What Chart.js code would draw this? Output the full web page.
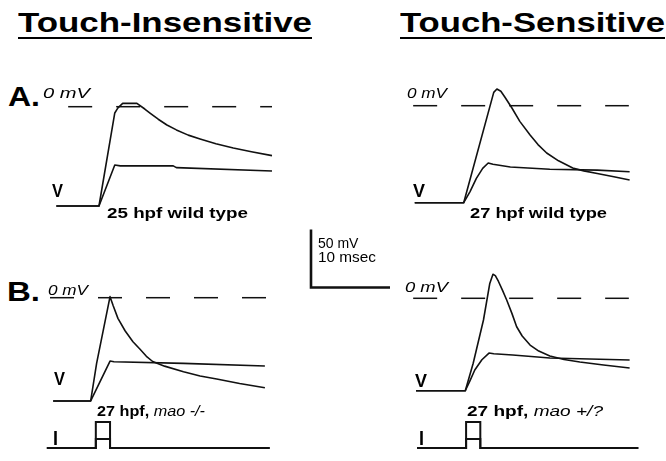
<!DOCTYPE html>
<html>
<head>
<meta charset="utf-8">
<script src="https://cdn.jsdelivr.net/npm/chart.js@4.4.0/dist/chart.umd.min.js"></script>
<style>
  body { margin: 0; background: #fff; }
  #fig { position: relative; width: 666px; height: 461px; overflow: hidden;
         font-family: "Liberation Sans", Arial, Helvetica, sans-serif; color: #000; }
  #fig canvas { position: absolute; }
  .lbl { position: absolute; white-space: nowrap; line-height: 1; transform-origin: 0 0; }
</style>
</head>
<body>
<div id="fig"></div>
<script>
// ---- data (time in ms, membrane potential in mV, current in arbitrary units) ----

// A. touch-insensitive, 25 hpf wild type
const tA1big = [0.8, 6.2, 8.2, 8.6, 9.2, 11.0, 12.0, 12.7, 13.7, 14.8, 16.0, 17.5, 19.0, 21.0, 23.2, 25.5, 28.1];
const vA1big = [-85.6, -85.6, -5.4, -1, 2.9, 2.9, -2, -5.7, -10.8, -15.8, -20, -24.5, -27.8, -32, -35.6, -38.8, -42.2];
const tA1small = [0.8, 6.2, 8.2, 8.9, 15.6, 16.0, 28.1];
const vA1small = [-85.6, -85.6, -50.2, -51, -51, -52.5, -55.4];

// A. touch-sensitive, 27 hpf wild type
const tA2big = [0.6, 6.8, 10.6, 11.0, 11.5, 12.0, 12.9, 13.9, 15.2, 16.2, 17.3, 18.8, 20.6, 22.0, 23.7, 25.8, 27.8];
const vA2big = [-83.6, -83.6, 11.5, 14.4, 12.5, 7.5, -2, -13.5, -25.3, -33.5, -40.8, -47.5, -53.7, -56.2, -58.5, -61.2, -64.1];
const tA2small = [0.6, 6.8, 7.6, 8.4, 9.2, 9.9, 10.5, 12.7, 17.7, 23.7, 27.8];
const vA2small = [-83.6, -83.6, -74, -62.6, -54, -49.4, -50.5, -52.8, -54.8, -55.5, -56.9];

// B. touch-insensitive, 27 hpf mao -/-
const tB1big = [0.4, 5.15, 5.9, 7.6, 8.0, 8.6, 9.5, 10.5, 11.4, 12.2, 13.0, 14.5, 16.9, 19.0, 21.1, 24.0, 27.2];
const vB1big = [-89, -89, -56.6, 0.9, -7, -17.8, -28.5, -38, -44.5, -50.5, -55, -59, -63.8, -67.5, -70.1, -74, -77.6];
const tB1small = [0.4, 5.15, 7.6, 8.1, 16.9, 27.2];
const vB1small = [-89, -89, -54.6, -55.2, -56.6, -58.9];

// B. touch-sensitive, 27 hpf mao +/?
const tB2big = [0.76, 7.0, 8.0, 9.3, 10.1, 10.5, 10.8, 11.2, 11.7, 12.24, 12.9, 13.5, 14.2, 15.2, 16.3, 17.7, 19.5, 21.5, 24.5, 27.8];
const vB2big = [-79.7, -79.7, -56, -18.7, 12.8, 20.7, 19.5, 14.5, 7, -1.5, -13, -24.5, -32.5, -40.3, -45.5, -49.7, -52.8, -54.9, -57.5, -60.1];
const tB2small = [0.76, 7.0, 7.6, 8.2, 9.1, 10.0, 10.6, 13.0, 17.7, 27.8];
const vB2small = [-79.7, -79.7, -71, -61.8, -53, -47.2, -47.8, -48.9, -51.5, -53.2];

// 0 mV reference spans (ms)
const zeroA1 = [2.3, 28.1];
const zeroA2 = [0.4, 27.7];
const zeroB1 = [0, 27.5];
const zeroB2 = [0.4, 27.7];

// current injection steps
const tStimB1 = [-0.4, 5.8, 5.8, 7.6, 7.6, 27.8];
const tStimB2 = [0.9, 7.1, 7.1, 8.9, 8.9, 28.9];
const iStimLarge = [0, 0, 2.6, 2.6, 0, 0];
const iStimSmall = [0, 0, 0.9, 0.9, 0, 0];

// scale bar: 50 mV / 10 msec
const tScale = [0, 0, 10];
const vScale = [50, 0, 0];

// ---- layout ----
const PX_PER_MS = 7.9;
const PX_PER_MV = 1.16;
const PX_PER_UNIT = 10;
const fig = document.getElementById('fig');

function pts(ts, vs) {
  return ts.map((t, i) => ({ x: t, y: vs[i] }));
}

function trace(ts, vs, extra) {
  return Object.assign({
    data: pts(ts, vs),
    showLine: true,
    borderColor: '#111',
    borderWidth: 1.6,
    borderJoinStyle: 'round',
    pointRadius: 0,
    fill: false,
    clip: false,
    tension: 0
  }, extra || {});
}

function zeroLine(span) {
  return trace(span, span.map(() => 0), { borderWidth: 1.5, borderDash: [24, 24] });
}

// box = canvas position; origin = pixel where t=0 / y=0 falls; yScale = px per y unit
function panel(box, origin, yScale, datasets) {
  const c = document.createElement('canvas');
  c.width = box.w; c.height = box.h;
  c.style.left = box.x + 'px'; c.style.top = box.y + 'px';
  fig.appendChild(c);
  new Chart(c, {
    type: 'scatter',
    data: { datasets: datasets },
    options: {
      responsive: false,
      animation: false,
      devicePixelRatio: 1,
      events: [],
      layout: { padding: 0 },
      plugins: { legend: { display: false }, tooltip: { enabled: false } },
      scales: {
        x: { type: 'linear', display: false,
             min: (box.x - origin.x) / PX_PER_MS,
             max: (box.x + box.w - origin.x) / PX_PER_MS },
        y: { type: 'linear', display: false,
             min: (origin.y - box.y - box.h) / yScale,
             max: (origin.y - box.y) / yScale }
      }
    }
  });
}

panel({ x: 40, y: 80, w: 245, h: 140 }, { x: 50, y: 106.7 }, PX_PER_MV, [
  zeroLine(zeroA1), trace(tA1small, vA1small), trace(tA1big, vA1big)
]);
panel({ x: 400, y: 80, w: 245, h: 140 }, { x: 410, y: 105.7 }, PX_PER_MV, [
  zeroLine(zeroA2), trace(tA2small, vA2small), trace(tA2big, vA2big)
]);
panel({ x: 40, y: 268, w: 245, h: 140 }, { x: 50, y: 297.7 }, PX_PER_MV, [
  zeroLine(zeroB1), trace(tB1small, vB1small), trace(tB1big, vB1big)
]);
panel({ x: 400, y: 268, w: 245, h: 140 }, { x: 410, y: 298.3 }, PX_PER_MV, [
  zeroLine(zeroB2), trace(tB2small, vB2small), trace(tB2big, vB2big)
]);

const stepStyle = { borderWidth: 2, borderJoinStyle: 'miter' };
panel({ x: 40, y: 412, w: 245, h: 44 }, { x: 50, y: 448 }, PX_PER_UNIT, [
  trace(tStimB1, iStimSmall, stepStyle), trace(tStimB1, iStimLarge, stepStyle)
]);
panel({ x: 400, y: 412, w: 245, h: 44 }, { x: 410, y: 448 }, PX_PER_UNIT, [
  trace(tStimB2, iStimSmall, stepStyle), trace(tStimB2, iStimLarge, stepStyle)
]);

panel({ x: 300, y: 222, w: 100, h: 75 }, { x: 311, y: 287.5 }, PX_PER_MV, [
  trace(tScale, vScale, { borderWidth: 2.6, borderJoinStyle: 'miter' })
]);

// ---- text ----
function label(html, left, baseline, size, width, css) {
  const s = document.createElement('div');
  s.className = 'lbl';
  s.innerHTML = html;
  s.style.fontSize = size + 'px';
  s.style.left = left + 'px';
  s.style.top = (baseline - 0.8465 * size) + 'px';
  if (css) s.style.cssText += css;
  fig.appendChild(s);
  const w = s.getBoundingClientRect().width;
  const k = width ? width / w : 1;
  s.style.transform = 'scaleX(' + k + ')';
  return s;
}

const titleCss = 'font-weight:bold;text-decoration:underline;text-decoration-thickness:2px;text-underline-offset:5px;';
label('Touch-Insensitive', 18, 32.5, 28, 294, titleCss);
label('Touch-Sensitive', 400, 32.5, 28, 265, titleCss);

label('A.', 8, 107, 28, 32, 'font-weight:bold;');
label('B.', 7, 302, 28, 33, 'font-weight:bold;');

label('0 mV', 43, 98, 15, 47, 'font-style:italic;');
label('0 mV', 407, 98, 15, 40, 'font-style:italic;');
label('0 mV', 48, 295, 15, 40, 'font-style:italic;');
label('0 mV', 405, 292, 15, 43, 'font-style:italic;');

label('V', 52, 197, 19, 11, 'font-weight:bold;');
label('V', 413, 197, 19, 12, 'font-weight:bold;');
label('V', 54, 385, 19, 11, 'font-weight:bold;');
label('V', 415, 387, 19, 12, 'font-weight:bold;');

label('I', 53, 445, 20, 5, 'font-weight:bold;');
label('I', 419, 445, 20, 5, 'font-weight:bold;');

label('25 hpf wild type', 107, 218, 15, 141, 'font-weight:bold;');
label('27 hpf wild type', 470, 218, 15, 137, 'font-weight:bold;');
label('27 hpf, <i style="font-weight:normal">mao -/-</i>', 97, 416, 15, 108, 'font-weight:bold;');
label('27 hpf, <i style="font-weight:normal">mao +/?</i>', 467, 416, 15, 136, 'font-weight:bold;');

label('50 mV', 318, 248, 14, null);
label('10 msec', 318, 262, 14, 58);
</script>
</body>
</html>
